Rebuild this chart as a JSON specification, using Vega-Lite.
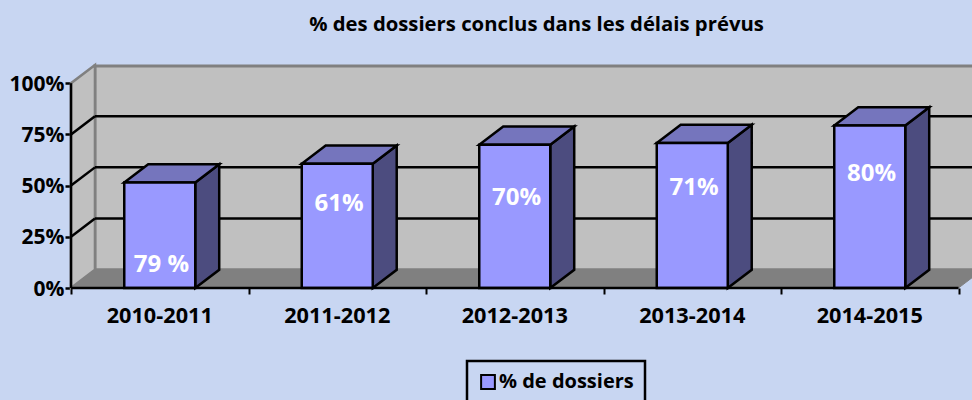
{
"$schema":"https://vega.github.io/schema/vega-lite/v6.json",
"width":901,"height":222,
"autosize":{"type":"none"},
"padding":{"left":71,"top":66,"right":0,"bottom":112},
"background":"#c8d6f2",
"title":{"text":"% des dossiers conclus dans les délais prévus","fontSize":20.3,"font":"Open Sans","fontWeight":"bold","color":"#000000","anchor":"middle","frame":"group","dx":15,"offset":25},
"config":{"view":{"stroke":null},"font":"Open Sans","legend":{"strokeWidth":2.5}},
"datasets":{
"bars":[
{"period":"2010-2011","share":51.5,"label":"79 %"},
{"period":"2011-2012","share":60.7,"label":"61%"},
{"period":"2012-2013","share":70,"label":"70%"},
{"period":"2013-2014","share":70.8,"label":"71%"},
{"period":"2014-2015","share":79.3,"label":"80%"}
],
"levels":[{"pct":25},{"pct":50},{"pct":75}],
"walls":[
{"face":"floor","cat":0,"pct":0,"depth":0,"n":0},
{"face":"floor","cat":0,"pct":0,"depth":1,"n":1},
{"face":"floor","cat":5,"pct":0,"depth":1,"n":2},
{"face":"floor","cat":5,"pct":0,"depth":0,"n":3},
{"face":"side","cat":0,"pct":0,"depth":0,"n":0},
{"face":"side","cat":0,"pct":0,"depth":1,"n":1},
{"face":"side","cat":0,"pct":100,"depth":1,"n":2},
{"face":"side","cat":0,"pct":100,"depth":0,"n":3}
]
},
"layer":[
{"data":{"values":[{"a":0}]},
 "mark":{"type":"rect","fill":"#c0c0c0","stroke":"#808080","strokeWidth":3},
 "encoding":{"x":{"datum":0.135,"type":"quantitative","scale":{"domain":[0,5.076],"nice":false,"zero":false},
   "axis":{"values":[0,1,2,3,4,5],"labels":false,"title":null,"grid":false,"domain":false,"ticks":true,"tickColor":"#000000","tickWidth":2,"tickSize":6}},
  "x2":{"datum":5.135},
  "y":{"datum":8.9,"type":"quantitative","scale":{"domain":[0,108.4],"nice":false,"zero":false},
   "axis":{"values":[0,25,50,75,100],"labelExpr":"datum.value+'%'","title":null,"grid":false,"domain":false,"tickColor":"#000000","tickWidth":2.5,"tickSize":6,"labelFontSize":21,"labelFontWeight":"bold","labelColor":"#000000","labelFont":"Open Sans","labelPadding":1,"labelOffset":1}},
  "y2":{"datum":108.4}}},
{"data":{"name":"walls"},
 "transform":[{"filter":"datum.face=='side'"},{"calculate":"datum.cat+datum.depth*0.135","as":"px"},{"calculate":"datum.pct+datum.depth*8.9","as":"py"}],
 "mark":{"type":"line","interpolate":"linear-closed","fill":"#c0c0c0","stroke":"#808080","strokeWidth":2.5},
 "encoding":{"x":{"field":"px","type":"quantitative"},"y":{"field":"py","type":"quantitative"},"order":{"field":"n"}}},
{"data":{"name":"walls"},
 "transform":[{"filter":"datum.face=='floor'"},{"calculate":"datum.cat+datum.depth*0.135","as":"px"},{"calculate":"datum.pct+datum.depth*8.9","as":"py"}],
 "mark":{"type":"line","interpolate":"linear-closed","fill":"#808080","stroke":"#808080","strokeWidth":1},
 "encoding":{"x":{"field":"px","type":"quantitative"},"y":{"field":"py","type":"quantitative"},"order":{"field":"n"}}},
{"data":{"name":"levels"},
 "transform":[{"calculate":"datum.pct+8.9","as":"back"}],
 "mark":{"type":"rule","stroke":"#000000","strokeWidth":2.5},
 "encoding":{"x":{"datum":0.135,"type":"quantitative"},"x2":{"datum":5.135},"y":{"field":"back","type":"quantitative"}}},
{"data":{"name":"levels"},
 "transform":[{"calculate":"datum.pct+8.9","as":"back"}],
 "mark":{"type":"rule","stroke":"#000000","strokeWidth":2.5},
 "encoding":{"x":{"datum":0,"type":"quantitative"},"x2":{"datum":0.135},"y":{"field":"pct","type":"quantitative"},"y2":{"field":"back"}}},
{"data":{"name":"bars"},
 "transform":[{"window":[{"op":"row_number","as":"rn"}]},{"calculate":"[0,1,2,3]","as":"c"},{"flatten":["c"]},
  {"calculate":"datum.rn-1+0.7+((datum.c==1||datum.c==2)?0.135:0)","as":"px"},
  {"calculate":"datum.c==0?0:(datum.c==1?8.9:(datum.c==2?datum.share+8.9:datum.share))","as":"py"}],
 "mark":{"type":"line","interpolate":"linear-closed","fill":"#4c4c7f","stroke":"#000000","strokeWidth":2.5},
 "encoding":{"x":{"field":"px","type":"quantitative"},"y":{"field":"py","type":"quantitative"},"order":{"field":"c"},"detail":{"field":"period"}}},
{"data":{"name":"bars"},
 "transform":[{"window":[{"op":"row_number","as":"rn"}]},{"calculate":"[0,1,2,3]","as":"c"},{"flatten":["c"]},
  {"calculate":"datum.rn-1+((datum.c==0)?0.3:(datum.c==1?0.7:(datum.c==2?0.835:0.435)))","as":"px"},
  {"calculate":"datum.c<2?datum.share:datum.share+8.9","as":"py"}],
 "mark":{"type":"line","interpolate":"linear-closed","fill":"#7575bd","stroke":"#000000","strokeWidth":2.5},
 "encoding":{"x":{"field":"px","type":"quantitative"},"y":{"field":"py","type":"quantitative"},"order":{"field":"c"},"detail":{"field":"period"}}},
{"data":{"name":"bars"},
 "transform":[{"window":[{"op":"row_number","as":"rn"}]},{"calculate":"datum.rn-1+0.3","as":"x0"},{"calculate":"datum.rn-1+0.7","as":"x1"}],
 "mark":{"type":"rect","stroke":"#000000","strokeWidth":2.5},
 "encoding":{"x":{"field":"x0","type":"quantitative"},"x2":{"field":"x1"},"y":{"field":"share","type":"quantitative"},"y2":{"datum":0},
  "color":{"datum":"% de dossiers","type":"nominal","scale":{"range":["#9999ff"]},
   "legend":{"title":null,"orient":"none","legendX":396,"legendY":295,"padding":11,"strokeColor":"#000000","fillColor":"#c8d6f2","symbolType":"square","symbolSize":190,"symbolStrokeColor":"#000000","symbolStrokeWidth":2,"symbolOpacity":1,"labelFontSize":20,"labelFontWeight":"bold","labelColor":"#000000","labelFont":"Open Sans","labelOffset":1}}}},
{"data":{"values":[{"a":0}]},
 "mark":{"type":"rule","stroke":"#000000","strokeWidth":2.5},
 "encoding":{"x":{"datum":0,"type":"quantitative"},"y":{"datum":0,"type":"quantitative"},"y2":{"datum":100}}},
{"data":{"values":[{"a":0}]},
 "mark":{"type":"rule","stroke":"#000000","strokeWidth":2.5},
 "encoding":{"x":{"datum":0,"type":"quantitative"},"x2":{"datum":5},"y":{"datum":0,"type":"quantitative"}}},
{"data":{"name":"bars"},
 "transform":[{"window":[{"op":"row_number","as":"rn"}]},{"calculate":"datum.rn-1+0.5","as":"cx"}],
 "mark":{"type":"text","fontSize":21.7,"fontWeight":"bold","color":"#000000","font":"Open Sans","dy":28,"baseline":"middle"},
 "encoding":{"x":{"field":"cx","type":"quantitative"},"y":{"datum":0,"type":"quantitative"},"text":{"field":"period"}}},
{"data":{"name":"bars"},
 "transform":[{"window":[{"op":"row_number","as":"rn"}]},{"calculate":"datum.rn-1+0.51","as":"cx"},{"calculate":"[11.3,41,44,49,55.5][datum.rn-1]","as":"ly"}],
 "mark":{"type":"text","fontSize":24,"fontWeight":"bold","color":"#ffffff","font":"Open Sans","baseline":"middle"},
 "encoding":{"x":{"field":"cx","type":"quantitative"},"y":{"field":"ly","type":"quantitative"},"text":{"field":"label"}}}
]
}
